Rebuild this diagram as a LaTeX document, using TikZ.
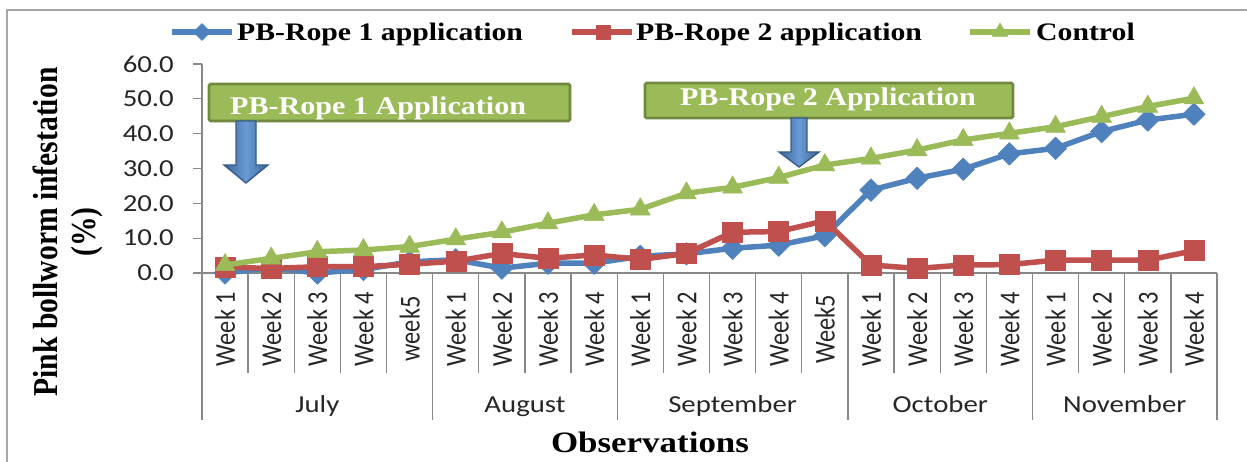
\documentclass[tikz,border=0pt]{standalone}
\usepackage{fontspec}
\usetikzlibrary{plotmarks}
\newfontfamily\calfont{Carlito}
\newfontfamily\tnrfont{Liberation Serif}
\definecolor{sblue}{HTML}{4F81BD}
\definecolor{sred}{HTML}{C0504D}
\definecolor{sgreen}{HTML}{9BBB59}
\definecolor{gborder}{HTML}{71893F}
\definecolor{adark}{HTML}{385D8A}
\definecolor{alight}{HTML}{6A9BD6}
\definecolor{axgray}{HTML}{888888}
\definecolor{framegray}{HTML}{A6A6A6}
\newcommand{\hstr}[1]{\scalebox{1.18}[1]{#1}}
\newcommand{\vstr}[1]{\scalebox{1}[1.18]{#1}}
\begin{document}
\begin{tikzpicture}[x=1pt,y=-1pt,
  axis/.style={draw=axgray, line width=1.3pt},
  ticklab/.style={font=\calfont\fontsize{24.4}{28}\selectfont, text=black!85, inner sep=0pt},
  wklab/.style={ticklab, rotate=90, anchor=center},
  monlab/.style={ticklab, anchor=base},
  legtext/.style={font=\tnrfont\bfseries\fontsize{25.2}{30}\selectfont, inner sep=0pt, anchor=base west},
  titletext/.style={font=\tnrfont\bfseries\fontsize{29.6}{36}\selectfont, inner sep=0pt},
  boxtext/.style={font=\tnrfont\bfseries\fontsize{25.5}{30}\selectfont, text=white, inner sep=0pt},
  callbox/.style={draw=gborder, fill=sgreen, line width=2.6pt, rounded corners=1.5pt, inner sep=0pt},
  callarrow/.style={draw=adark, line width=1.4pt, left color=adark!80!sblue, right color=adark!80!sblue, middle color=alight, line join=miter},
  serB/.style={draw=sblue, line width=5.5pt, line join=round, mark=square*, mark size=8pt, mark options={rotate=45, fill=sblue, draw=sblue, line width=0.5pt, solid}},
  serR/.style={draw=sred, line width=5.5pt, line join=round, mark=square*, mark size=10pt, mark options={fill=sred, draw=sred, line width=0.5pt, solid}},
  serG/.style={draw=sgreen, line width=5.5pt, line join=round, mark=triangle*, mark size=11.5pt, mark options={fill=sgreen, draw=sgreen, line width=0.5pt, solid}},
]
\useasboundingbox (0,0) rectangle (1247,462);
% outer frame
\draw[framegray, line width=1.3pt] (1247,10) -- (7,10) -- (7,462);

% axes
\draw[axis] (202,64) -- (202,420);
\draw[axis] (202,273) -- (1217,273);
\foreach \j in {0,...,6} \draw[axis] (193,{273-34.83*\j}) -- (202,{273-34.83*\j});
\foreach \k in {1,2,3,4,6,7,8,10,11,12,13,15,16,17,19,20,21}
  \draw[axis] ({202+\k*46.136},273) -- ({202+\k*46.136},373);
\foreach \k in {5,9,14,18,22}
  \draw[axis] ({202+\k*46.136},273) -- ({202+\k*46.136},420);

% y tick labels
\foreach \v [count=\j from 0] in {0.0,10.0,20.0,30.0,40.0,50.0,60.0}
  \node[ticklab, anchor=east] (yt\j) at (174,{273-34.83*\j}) {\hstr{\v}};

% week labels
\foreach \lab [count=\i] in {Week 1,Week 2,Week 3,Week 4,week5,Week 1,Week 2,Week 3,Week 4,Week 1,Week 2,Week 3,Week 4,Week5,Week 1,Week 2,Week 3,Week 4,Week 1,Week 2,Week 3,Week 4}
  \node[wklab] (w\i) at ({202+(\i-0.5)*46.136},329) {\vstr{\lab}};

% month labels
\node[monlab] (mjul) at (317.4,412) {\hstr{July}};
\node[monlab] (maug) at (525.0,412) {\hstr{August}};
\node[monlab] (msep) at (732.6,412) {\hstr{September}};
\node[monlab] (moct) at (940.3,412) {\hstr{October}};
\node[monlab] (mnov) at (1124.8,412) {\hstr{November}};

% axis titles
\node[titletext, rotate=90] (yt1) at (45,232) {\vstr{Pink bollworm infestation}};
\node[titletext, rotate=90] (yt2) at (87,232) {\vstr{(\%)}};
\node[titletext, anchor=base] (xt) at (650,452) {\hstr{Observations}};

% data
\begin{scope}[shift={(202,273)}, x=46.136pt, y=3.483pt]
\draw[serB] plot coordinates {(0.5,0.0) (1.5,1.5) (2.5,0.0) (3.5,1.0) (4.5,3.2) (5.5,3.8) (6.5,1.4) (7.5,2.8) (8.5,2.8) (9.5,4.8) (10.5,5.5) (11.5,7.1) (12.5,8.0) (13.5,10.7) (14.5,23.8) (15.5,27.2) (16.5,29.8) (17.5,34.2) (18.5,35.8) (19.5,40.6) (20.5,43.9) (21.5,45.6)};
\draw[serR] plot coordinates {(0.5,1.7) (1.5,1.3) (2.5,1.8) (3.5,1.8) (4.5,2.5) (5.5,3.4) (6.5,5.6) (7.5,4.2) (8.5,5.2) (9.5,3.9) (10.5,5.6) (11.5,11.7) (12.5,11.9) (13.5,15.0) (14.5,2.3) (15.5,1.3) (16.5,2.3) (17.5,2.4) (18.5,3.7) (19.5,3.7) (20.5,3.7) (21.5,6.4)};
\draw[serG] plot coordinates {(0.5,2.3) (1.5,4.2) (2.5,6.1) (3.5,6.6) (4.5,7.6) (5.5,9.7) (6.5,11.7) (7.5,14.3) (8.5,16.7) (9.5,18.3) (10.5,22.9) (11.5,24.6) (12.5,27.4) (13.5,31.0) (14.5,32.9) (15.5,35.3) (16.5,38.2) (17.5,40.1) (18.5,42.0) (19.5,44.9) (20.5,47.8) (21.5,50.2)};
\end{scope}

% callout boxes
\node[callbox, minimum width=361pt, minimum height=37pt] (box1) at (389.5,102.5) {};
\node[boxtext, anchor=base west] (box1t) at (230,115) {\hstr{PB-Rope 1 Application}};
\node[callbox, minimum width=368pt, minimum height=35pt] (box2) at (829,100.5) {};
\node[boxtext, anchor=base] (box2t) at (828,106) {\hstr{PB-Rope 2 Application}};

% arrows
\coordinate (a1s) at (246,121);
\coordinate (a2s) at (799,118);
\draw[callarrow] (a1s) ++(-10,0) -- ++(20,0) -- ++(0,44) -- ++(12,0) -- ++(-22,18) -- ++(-22,-18) -- ++(12,0) -- cycle;
\draw[callarrow] (a2s) ++(-8,0) -- ++(16,0) -- ++(0,34) -- ++(12,0) -- ++(-20,15) -- ++(-20,-15) -- ++(12,0) -- cycle;

% legend
\draw[serB, mark=none] (172,32) -- (232,32);
\path[serB, draw=none, mark size=6pt] plot coordinates {(202,32)};
\node[legtext] (lg1) at (237,41) {\hstr{PB-Rope 1 application}};
\draw[serR, mark=none] (572,32) -- (632,32);
\path[serR, draw=none, mark size=7pt] plot coordinates {(603,32)};
\node[legtext] (lg2) at (636,41) {\hstr{PB-Rope 2 application}};
\draw[serG, mark=none] (970,32) -- (1030,32);
\path[serG, draw=none, mark size=9pt] plot coordinates {(1000,32)};
\node[legtext] (lg3) at (1036,41) {\hstr{Control}};
\end{tikzpicture}
\end{document}
